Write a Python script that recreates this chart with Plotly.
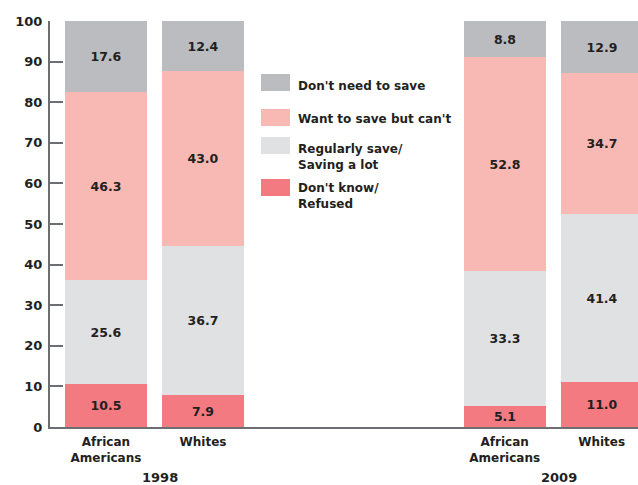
import plotly.graph_objects as go

# ---- data ----
groups = ["1998", "2009"]
categories = ["African<br>Americans", "Whites"]
series_names = ["Don't know/<br>Refused", "Regularly save/<br>Saving a lot",
                "Want to save but can't", "Don't need to save"]
dont_know = [10.5, 7.9, 5.1, 11.0]
regularly_save = [25.6, 36.7, 33.3, 41.4]
want_to_save = [46.3, 43.0, 52.8, 34.7]
dont_need = [17.6, 12.4, 8.8, 12.9]
y_ticks = [0, 10, 20, 30, 40, 50, 60, 70, 80, 90, 100]

colors = ["#f27a80", "#e0e1e3", "#f8b9b5", "#bbbcc0"]
series = [dont_know, regularly_save, want_to_save, dont_need]

W, H = 638, 485
ml, mr, mt, mb = 50, 0, 21, 58
TXT = "#231f20"
FONT = "DejaVu Sans"

# x positions: bars one unit apart, groups separated by a wider gap
group_gap = 4.11
xpos = []
for gi in range(len(groups)):
    for ci in range(len(categories)):
        xpos.append(gi * group_gap + ci)

fig = go.Figure()
for vals, col, name in zip(series, colors, series_names):
    fig.add_trace(go.Bar(
        x=xpos, y=vals, name=name, marker=dict(color=col, line=dict(width=0)),
        width=0.845, text=[f"{v:.1f}" for v in vals], textposition="inside",
        insidetextanchor="middle", constraintext="none",
        textfont=dict(family=FONT, size=12.5, color=TXT, weight="bold"),
        showlegend=False, hoverinfo="skip"))

plot_w = W - ml - mr
plot_h = H - mt - mb
def px_x(px):
    return (px - ml) / plot_w
def px_y(py):
    return (H - mb - py) / plot_h

# custom legend
legend_items = [
    ("Don't need to save", colors[3], 74, 91, 86),
    ("Want to save but can't", colors[2], 109, 126, 119),
    ("Regularly save/<br>Saving a lot", colors[1], 137, 154, 157),
    ("Don't know/<br>Refused", colors[0], 179, 196, 196),
]
shapes = []
annotations = []
for label, col, y0, y1, ty in legend_items:
    shapes.append(dict(type="rect", xref="paper", yref="paper",
                       x0=px_x(261), x1=px_x(290), y0=px_y(y1), y1=px_y(y0),
                       fillcolor=col, line=dict(width=0)))
    annotations.append(dict(xref="paper", yref="paper", x=px_x(296), y=px_y(ty),
                            text=label, showarrow=False, xanchor="left", yanchor="middle",
                            align="left",
                            font=dict(family=FONT, size=12, color=TXT, weight="bold")))

# group (year) labels
for gi, g in enumerate(groups):
    mid = gi * group_gap + (len(categories) - 1) / 2
    annotations.append(dict(xref="x", yref="paper", x=mid + 0.06, y=px_y(477),
                            text=g, showarrow=False, xanchor="center", yanchor="middle",
                            font=dict(family=FONT, size=13, color=TXT, weight="bold")))

fig.update_layout(
    width=W, height=H, barmode="stack", bargap=0,
    margin=dict(l=ml, r=mr, t=mt, b=mb, pad=0),
    paper_bgcolor="white", plot_bgcolor="white",
    shapes=shapes, annotations=annotations,
    xaxis=dict(range=[-0.577, 5.485], tickvals=xpos, ticktext=categories * len(groups),
               showgrid=False, zeroline=False, showline=True, linecolor="#6d6e71",
               linewidth=1.5, ticks="", ticklabelstandoff=3,
               tickfont=dict(family=FONT, size=12, color=TXT, weight="bold")),
    yaxis=dict(range=[0, 100], tickvals=y_ticks, showgrid=False, zeroline=False,
               showline=True, linecolor="#6d6e71", linewidth=2,
               ticks="inside", ticklen=13, tickwidth=1.5, tickcolor="#6d6e71",
               ticklabelstandoff=3,
               tickfont=dict(family=FONT, size=13, color=TXT, weight="bold")),
)

fig.write_html("out.html")
